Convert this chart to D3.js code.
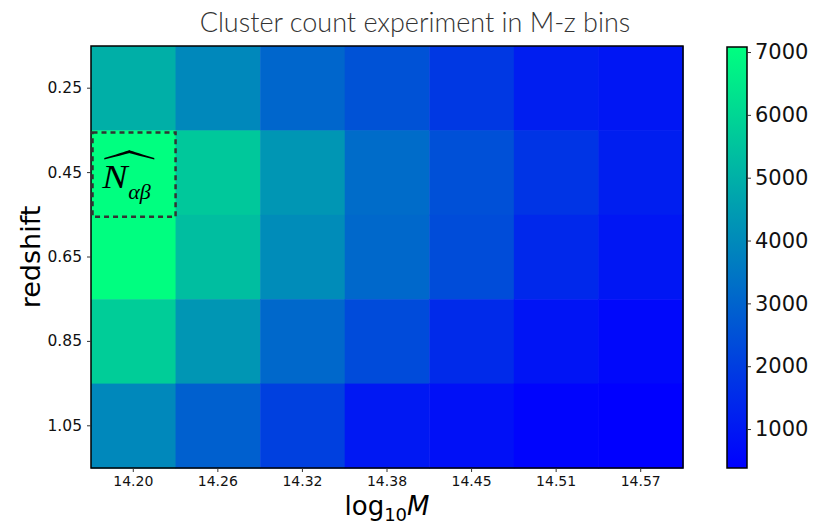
<!DOCTYPE html>
<html>
<head>
<meta charset="utf-8">
<script src="https://cdn.jsdelivr.net/npm/d3@7"></script>
<style>
	body { margin: 0; background: #fff; }
</style>
</head>
<body>
<div class="c-svg"></div>
<script>
//DATA
//-------------------------------------------------------------------------
const massBins = ["14.20", "14.26", "14.32", "14.38", "14.45", "14.51", "14.57"];
const zBins = ["0.25", "0.45", "0.65", "0.85", "1.05"];

//counts per redshift row, one value per mass column
const counts_z025 = [4980, 3950, 3060, 2540, 1850, 1170, 960];
const counts_z045 = [7080, 5630, 4320, 3220, 2480, 1750, 1170];
const counts_z065 = [7050, 5380, 4060, 3120, 2380, 1430, 960];
const counts_z085 = [5770, 4320, 3120, 2350, 1480, 905, 590];
const counts_z105 = [3950, 2900, 2060, 1010, 800, 485, 380];

const cbTicks = [1000, 2000, 3000, 4000, 5000, 6000, 7000];

const rows = [counts_z025, counts_z045, counts_z065, counts_z085, counts_z105];
const cells = [];
rows.forEach((r, i) => r.forEach((v, j) => cells.push({z: zBins[i], m: massBins[j], v: v})));

//OPTS
//-------------------------------------------------------------------------
const opts = {
	width: 827,
	height: 527,
	margin: {top: 46, right: 144, bottom: 59, left: 91}
};
const inner = {
	width: opts.width - opts.margin.left - opts.margin.right,
	height: opts.height - opts.margin.top - opts.margin.bottom
};
const FONT = "'DejaVu Sans', sans-serif";

const svg = d3.select(".c-svg")
	.append("svg")
	.attr("width", opts.width)
	.attr("height", opts.height);

const g = svg.append("g")
	.attr("transform", `translate(${opts.margin.left} ${opts.margin.top})`);

//scales
const x = d3.scaleBand().domain(massBins).range([0, inner.width]);
const y = d3.scaleBand().domain(zBins).range([0, inner.height]);

const vmin = d3.min(cells, d => d.v);
const vmax = d3.max(cells, d => d.v);
//matplotlib "winter" colormap
const winter = t => d3.rgb(0, Math.round(255 * t), Math.round(255 * (1 - 0.5 * t)));
const color = d3.scaleSequential(winter).domain([vmin, vmax]);

//HEATMAP
//-------------------------------------------------------------------------
g.selectAll(".cell")
	.data(cells)
	.join("rect")
	.attr("class", "cell")
	.attr("x", d => x(d.m))
	.attr("y", d => y(d.z))
	.attr("width", x.bandwidth() + 0.5)
	.attr("height", y.bandwidth() + 0.5)
	.style("fill", d => color(d.v));

//frame
g.append("rect")
	.attr("width", inner.width)
	.attr("height", inner.height)
	.style("fill", "none")
	.style("stroke", "#000")
	.style("stroke-width", 1.5);

//axes
const xAxis = g.append("g")
	.attr("transform", `translate(0 ${inner.height})`)
	.call(d3.axisBottom(x).tickSize(4).tickPadding(4));
const yAxis = g.append("g")
	.call(d3.axisLeft(y).tickSize(4).tickPadding(5));
[xAxis, yAxis].forEach(a => {
	a.attr("font-family", FONT);
	a.select(".domain").remove();
	a.selectAll("text").attr("fill", "#111");
	a.selectAll("line").attr("stroke", "#333");
});
xAxis.attr("font-size", 14);
yAxis.attr("font-size", 15.5);

//dashed box on highlighted cell
const bx = x(massBins[0]), by = y(zBins[1]);
g.append("rect")
	.attr("x", bx + 1.5)
	.attr("y", by + 2)
	.attr("width", x.bandwidth() - 1.5)
	.attr("height", y.bandwidth())
	.style("fill", "none")
	.style("stroke", "#333")
	.style("stroke-width", 2.5)
	.style("stroke-dasharray", "5,4");

//N hat alpha beta label
const lab = g.append("g")
	.attr("transform", `translate(${bx + x.bandwidth() / 2} ${by + y.bandwidth() / 2})`);
lab.append("text")
	.attr("transform", "translate(-31 15) scale(1.12 1)")
	.attr("font-family", "'Liberation Serif', serif")
	.attr("font-style", "italic")
	.attr("font-size", 34)
	.text("N");
lab.append("text")
	.attr("x", -5)
	.attr("y", 26)
	.attr("font-family", "'Liberation Serif', serif")
	.attr("font-style", "italic")
	.attr("font-size", 22)
	.text("αβ");
lab.append("path")
	.attr("d", "M-29,-14.5 Q-4,-22 -4,-22.5 Q-4,-22 21,-14.5 L21,-13.2 Q-4,-19 -4,-19.5 Q-4,-19 -29,-13.2 Z")
	.style("fill", "#000");

//TITLE & LABELS
//-------------------------------------------------------------------------
svg.append("text")
	.attr("x", 415)
	.attr("y", 32)
	.attr("text-anchor", "middle")
	.attr("font-family", "Lato, 'Open Sans', sans-serif")
	.attr("font-weight", 300)
	.attr("font-size", 27)
	.attr("fill", "#333")
	.text("Cluster count experiment in M-z bins");

const xl = svg.append("text")
	.attr("x", opts.margin.left + inner.width / 2)
	.attr("y", 515)
	.attr("text-anchor", "middle")
	.attr("font-family", FONT)
	.attr("font-size", 26);
xl.append("tspan").text("log");
xl.append("tspan").attr("dy", 6).attr("font-size", 18).text("10");
xl.append("tspan").attr("dy", -6).attr("font-style", "italic").text("M");

svg.append("text")
	.attr("transform", `translate(40 ${opts.margin.top + inner.height / 2}) rotate(-90)`)
	.attr("text-anchor", "middle")
	.attr("font-family", FONT)
	.attr("font-size", 27)
	.text("redshift");

//COLORBAR
//-------------------------------------------------------------------------
const cb = {x: 727, y: opts.margin.top + 1, w: 20, h: inner.height - 1};
const cbScale = d3.scaleLinear().domain([vmin, vmax]).range([cb.h, 0]);

const defs = svg.append("defs");
const grad = defs.append("linearGradient")
	.attr("id", "cbgrad")
	.attr("x1", 0).attr("y1", 1).attr("x2", 0).attr("y2", 0);
d3.range(0, 1.01, 0.1).forEach(t => {
	grad.append("stop").attr("offset", t).attr("stop-color", winter(t));
});

const cbg = svg.append("g").attr("transform", `translate(${cb.x} ${cb.y})`);
cbg.append("rect")
	.attr("width", cb.w)
	.attr("height", cb.h)
	.style("fill", "url(#cbgrad)")
	.style("stroke", "#000")
	.style("stroke-width", 1.5);

const cbAxis = cbg.append("g")
	.attr("transform", `translate(${cb.w} 0)`)
	.call(d3.axisRight(cbScale).tickValues(cbTicks).tickFormat(d3.format("d")).tickSize(4).tickPadding(4));
cbAxis.attr("font-family", FONT).attr("font-size", 21);
cbAxis.select(".domain").remove();
cbAxis.selectAll("text").attr("fill", "#111");
cbAxis.selectAll("line").attr("stroke", "#333");
</script>
</body>
</html>
